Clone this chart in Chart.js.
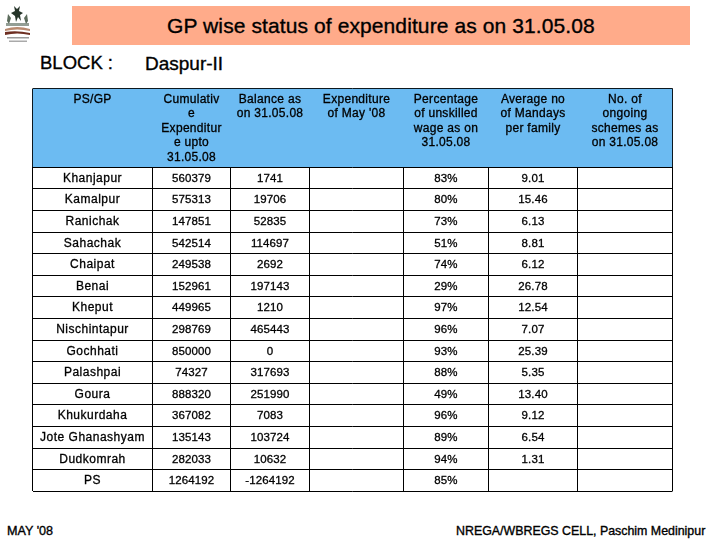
<!DOCTYPE html>
<html>
<head>
<meta charset="utf-8">
<title>GP wise status of expenditure</title>
<script src="https://cdn.jsdelivr.net/npm/chart.js@4/dist/chart.umd.js"></script>
<style>
  html, body { margin: 0; padding: 0; background: #fff; }
  #wrap { position: relative; width: 720px; height: 540px; overflow: hidden; font-family: "Liberation Sans", Arial, sans-serif; color: #000; }
  #chart { position: absolute; left: 0; top: 0; }
  .band { position: absolute; left: 72px; top: 6px; width: 618px; height: 39px; background: #ffab8a; }
  .label { position: absolute; white-space: nowrap; line-height: 1; -webkit-text-stroke: 0.35px #000; }
  #logo { position: absolute; left: 3px; top: 4px; }
</style>
</head>
<body>
<div id="wrap">
  <div class="band"></div>
  <svg id="logo" width="29" height="42" viewBox="0 0 29 42">
    <path d="M11 2 L14 5 L17 2 L16 7 L20 9 L17 11 L18 17 L15 13 L13 18 L12 12 L8 9 L12 7 Z" fill="#26352a"/>
    <path d="M5 10 L8 14 L6 20 L4 17 Z M24 10 L21 14 L23 20 L25 17 Z" fill="#5b6b5b"/>
    <path d="M3 19 h23 v3 h-23 Z" fill="#6f7d72" opacity="0.75"/>
    <path d="M2 25 Q14 21 27 25 v2 Q14 24 2 27 Z" fill="#b98a70"/>
    <path d="M2 28 Q14 26 27 29 v2 Q14 28 2 31 Z" fill="#6e2f22"/>
    <rect x="4" y="33" width="22" height="1.5" fill="#999"/>
    <rect x="6" y="36.5" width="18" height="1.5" fill="#aaa"/>
  </svg>
  <div class="label" style="left:167px;top:15px;font-size:21px;letter-spacing:0.1px;">GP wise status of expenditure as on 31.05.08</div>
  <div class="label" style="left:40px;top:54px;font-size:18.5px;">BLOCK :</div>
  <div class="label" style="left:145px;top:54px;font-size:19px;">Daspur-II</div>
  <div class="label" style="left:7px;top:525px;font-size:12.6px;">MAY '08</div>
  <div class="label" style="left:456px;top:525px;font-size:12.4px;">NREGA/WBREGS CELL, Paschim Medinipur</div>
  <canvas id="chart" width="720" height="540"></canvas>
</div>
<script>
// table values
const headers = [
  ['PS/GP'],
  ['Cumulativ', 'e', 'Expenditur', 'e upto', '31.05.08'],
  ['Balance as', 'on 31.05.08'],
  ['Expenditure', 'of May \'08'],
  ['Percentage', 'of unskilled', 'wage as on', '31.05.08'],
  ['Average no', 'of Mandays', 'per family'],
  ['No. of', 'ongoing', 'schemes as', 'on 31.05.08']
];
const gpNames = ['Khanjapur', 'Kamalpur', 'Ranichak', 'Sahachak', 'Chaipat', 'Benai', 'Kheput', 'Nischintapur', 'Gochhati', 'Palashpai', 'Goura', 'Khukurdaha', 'Jote Ghanashyam', 'Dudkomrah', 'PS'];
const cumulative = [560379, 575313, 147851, 542514, 249538, 152961, 449965, 298769, 850000, 74327, 888320, 367082, 135143, 282033, 1264192];
const balance = [1741, 19706, 52835, 114697, 2692, 197143, 1210, 465443, 0, 317693, 251990, 7083, 103724, 10632, -1264192];
const wagePct = [83, 80, 73, 51, 74, 29, 97, 96, 93, 88, 49, 96, 89, 94, 85];
const mandays = ['9.01', '15.46', '6.13', '8.81', '6.12', '26.78', '12.54', '7.07', '25.39', '5.35', '13.40', '9.12', '6.54', '1.31', ''];

// grid layout, same units as the pixels of the page
const colEdges = [0, 120, 198, 277, 371, 456, 545, 640];
const rowEdges = [0, 78.5, 99.5, 121.5, 143.5, 164.5, 186.5, 207.5, 229.5, 251.5, 272.5, 294.5, 315.5, 337.5, 359.5, 380.5, 402.5];

const colMid = i => (colEdges[i] + colEdges[i + 1]) / 2;
const rowMid = i => (rowEdges[i + 1] + rowEdges[i + 2]) / 2;

// one text point per cell, the text sits on the point
const cellPoints = [];
gpNames.forEach((name, r) => {
  const row = [name, cumulative[r], balance[r], '', wagePct[r] + '%', mandays[r], ''];
  row.forEach((txt, c) => {
    if (txt !== '') cellPoints.push({ x: colMid(c), y: rowMid(r), txt: String(txt), isName: c === 0 });
  });
});
const headPoints = [];
headers.forEach((lines, c) => {
  lines.forEach((txt, l) => headPoints.push({ x: colMid(c), y: 10 + l * 14.5, txt: txt }));
});

const cellText = {
  id: 'cellText',
  afterDatasetsDraw(chart) {
    const ctx = chart.ctx;
    ctx.save();
    ctx.fillStyle = '#000';
    ctx.strokeStyle = '#000';
    ctx.lineWidth = 0.3;
    ctx.textAlign = 'center';
    ctx.textBaseline = 'middle';
    [1, 2].forEach(ds => {
      chart.getDatasetMeta(ds).data.forEach((el, i) => {
        const pt = chart.data.datasets[ds].data[i];
        if (ds === 1) {
          ctx.font = '12px "Liberation Sans"';
          ctx.letterSpacing = '0.3px';
        } else if (pt.isName) {
          ctx.font = '12px "Liberation Sans"';
          ctx.letterSpacing = '0.5px';
        } else {
          ctx.font = '11.5px "Liberation Sans"';
          ctx.letterSpacing = '0.1px';
        }
        ctx.fillText(pt.txt, el.x, el.y + 1);
        ctx.strokeText(pt.txt, el.x, el.y + 1);
      });
    });
    ctx.restore();
  }
};

new Chart(document.getElementById('chart'), {
  type: 'scatter',
  data: {
    datasets: [
      {
        // header background
        showLine: true,
        data: [{ x: colEdges[0], y: rowEdges[0] }, { x: colEdges[7], y: rowEdges[0] }],
        fill: { value: rowEdges[1] },
        backgroundColor: '#6cbbf2',
        borderWidth: 0,
        pointRadius: 0
      },
      { data: headPoints, pointRadius: 0 },
      { data: cellPoints, pointRadius: 0 }
    ]
  },
  options: {
    responsive: false,
    animation: false,
    devicePixelRatio: 1,
    layout: { padding: { left: 32.5, top: 88.5, right: 47.5, bottom: 49 } },
    plugins: { legend: { display: false }, tooltip: { enabled: false } },
    scales: {
      x: {
        type: 'linear',
        min: 0,
        max: 640,
        display: true,
        afterBuildTicks: axis => { axis.ticks = colEdges.map(v => ({ value: v })); },
        ticks: { display: false },
        grid: { color: '#000', lineWidth: 1, drawTicks: false },
        border: { display: false }
      },
      y: {
        type: 'linear',
        min: 0,
        max: 402.5,
        reverse: true,
        display: true,
        afterBuildTicks: axis => { axis.ticks = rowEdges.map(v => ({ value: v })); },
        ticks: { display: false },
        grid: { color: '#000', lineWidth: 1, drawTicks: false },
        border: { display: false }
      }
    }
  },
  plugins: [cellText]
});
</script>
</body>
</html>
